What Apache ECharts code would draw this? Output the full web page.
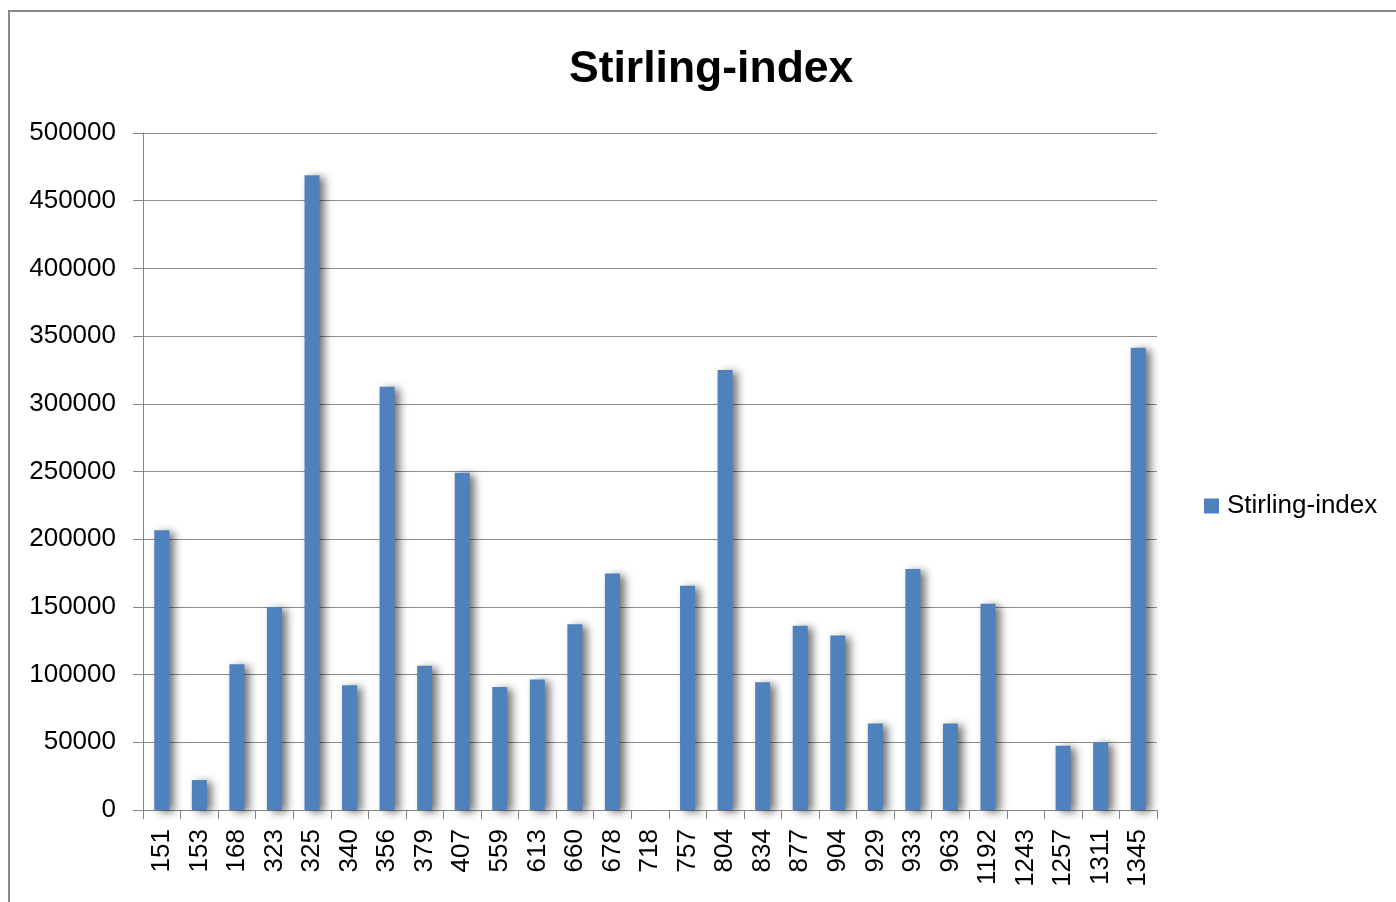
<!DOCTYPE html>
<html>
<head>
<meta charset="utf-8">
<script src="https://cdn.jsdelivr.net/npm/echarts@6/dist/echarts.min.js"></script>
<style>
html,body{margin:0;padding:0;background:#fff;}
#chart{width:1396px;height:902px;}
</style>
</head>
<body>
<div id="chart"></div>
<script>
var seriesName = 'Stirling-index';
var categories = ['151','153','168','323','325','340','356','379','407','559','613','660','678','718','757','804','834','877','904','929','933','963','1192','1243','1257','1311','1345'];
var values = [206600, 22100, 107600, 150000, 468800, 92100, 312600, 106600, 249000, 90900, 96300, 137200, 174700, 0, 165600, 325000, 94300, 136000, 128800, 63800, 178000, 63800, 152400, 0, 47500, 50000, 341400];
var yMin = 0, yMax = 500000, yStep = 50000;

var chart = echarts.init(document.getElementById('chart'), null, {renderer: 'canvas'});
var font = '"Liberation Sans", Arial, sans-serif';
chart.setOption({
  animation: false,
  backgroundColor: '#ffffff',
  graphic: [{
    type: 'rect', z: -1, silent: true,
    shape: {x: 9, y: 11, width: 1400, height: 900},
    style: {fill: 'none', stroke: '#8a8a8a', lineWidth: 2}
  }],
  title: {
    text: seriesName,
    left: 564, top: 42,
    textStyle: {fontFamily: font, fontWeight: 'bold', fontSize: 44.5, color: '#000'}
  },
  legend: {
    data: [seriesName],
    left: 1199, top: 488,
    icon: 'rect', itemWidth: 15, itemHeight: 15,
    textStyle: {fontFamily: font, fontSize: 26, color: '#000', padding: [0, 0, 0, 3]}
  },
  grid: {left: 143, right: 239, top: 133, bottom: 92, containLabel: false},
  xAxis: {
    type: 'category',
    data: categories,
    axisLine: {lineStyle: {color: '#868686', width: 1}},
    axisTick: {show: true, length: 9, lineStyle: {color: '#868686'}},
    axisLabel: {rotate: 90, margin: 19, fontFamily: font, fontSize: 26, color: '#000', interval: 0}
  },
  yAxis: {
    type: 'value',
    min: yMin, max: yMax, interval: yStep,
    axisLine: {show: true, lineStyle: {color: '#868686', width: 1}},
    axisTick: {show: true, length: 10, lineStyle: {color: '#868686'}},
    splitLine: {show: true, lineStyle: {color: '#8c8c8c', width: 1}},
    axisLabel: {margin: 27, fontFamily: font, fontSize: 26, color: '#000', formatter: function (v) { return String(v); }}
  },
  series: [{
    name: seriesName,
    type: 'bar',
    data: values,
    barWidth: 15,
    itemStyle: {
      color: '#4F81BD',
      shadowColor: 'rgba(0,0,0,0.55)',
      shadowBlur: 8,
      shadowOffsetX: 5,
      shadowOffsetY: 2
    }
  }]
});
</script>
</body>
</html>
